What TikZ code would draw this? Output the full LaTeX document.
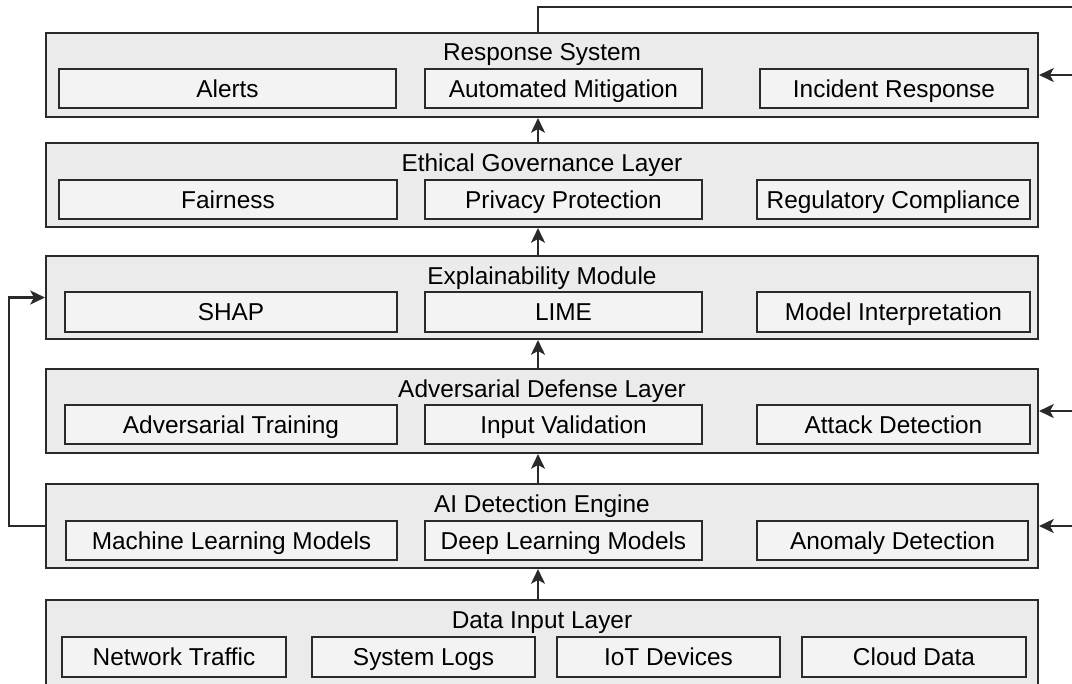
\documentclass[tikz,border=0pt]{standalone}
\usepackage{fontspec}
\setmainfont{Liberation Sans}
\usetikzlibrary{arrows.meta,fit}
\definecolor{edgegray}{HTML}{2A2A2A}
\definecolor{layerfill}{HTML}{EBEBEB}
\definecolor{cellfill}{HTML}{F3F3F3}
\begin{document}
\begin{tikzpicture}[x=0.75pt,y=-0.75pt,
  font=\fontsize{18.3}{21}\selectfont,
  layer/.style={draw=edgegray, line width=1.6pt, fill=layerfill, inner sep=0pt},
  cell/.style={draw=edgegray, line width=1.6pt, fill=cellfill, inner sep=0pt},
  % text box spans the capital letters only, so captions centre on their caps
  heading/.style={inner sep=0pt, text=black, text height=13.1pt, text depth=0pt},
  arr/.style={draw=edgegray, line width=1.6pt, -{Stealth[length=11pt, width=10.5pt, inset=2.8pt]}},
  wire/.style={draw=edgegray, line width=1.6pt}]
\useasboundingbox (0,0) rectangle (1072,683);
\clip (0,0) rectangle (1072,683);

% ---- layers (outer frames) ----
\node[layer, fit={(46,33)(1038,117)}]  (resp) {};
\node[layer, fit={(46,143)(1038,227)}] (eth)  {};
\node[layer, fit={(46,256)(1038,339)}] (expl) {};
\node[layer, fit={(46,369)(1038,453)}] (adv)  {};
\node[layer, fit={(46,484)(1038,568)}] (ai)   {};
\node[layer, fit={(46,600)(1038,700)}] (data) {};

% ---- layer titles ----
\node[heading] (resp-t) at (542,52)  {Response System};
\node[heading] (eth-t)  at (542,163) {Ethical Governance Layer};
\node[heading] (expl-t) at (542,276) {Explainability Module};
\node[heading] (adv-t)  at (542,389) {Adversarial Defense Layer};
\node[heading] (ai-t)   at (542,504) {AI Detection Engine};
\node[heading] (data-t) at (542,620) {Data Input Layer};

% ---- components (text centred inside each frame) ----
\tikzset{comp/.style={cell, label={[heading]center:#1}}}
\node[comp=Alerts,                fit={(59,69)(396,108)}]    (alerts) {};
\node[comp=Automated Mitigation,  fit={(425,69)(702,108)}]   (mitig)  {};
\node[comp=Incident Response,     fit={(760,69)(1028,108)}]  (incid)  {};

\node[comp=Fairness,              fit={(59,180)(397,219)}]   (fair)   {};
\node[comp=Privacy Protection,    fit={(425,180)(702,219)}]  (priv)   {};
\node[comp=Regulatory Compliance, fit={(757,180)(1030,219)}] (regul)  {};

\node[comp=SHAP,                  fit={(65,292)(397,332)}]   (shap)   {};
\node[comp=LIME,                  fit={(425,292)(702,332)}]  (lime)   {};
\node[comp=Model Interpretation,  fit={(757,292)(1030,332)}] (interp) {};

\node[comp=Adversarial Training,  fit={(65,405)(397,444)}]   (advtr)  {};
\node[comp=Input Validation,      fit={(425,405)(702,444)}]  (inval)  {};
\node[comp=Attack Detection,      fit={(757,405)(1030,444)}] (attack) {};

\node[comp=Machine Learning Models, fit={(66,521)(397,560)}]   (ml)   {};
\node[comp=Deep Learning Models,    fit={(425,521)(702,560)}]  (dl)   {};
\node[comp=Anomaly Detection,       fit={(757,521)(1028,560)}] (anom) {};

\node[comp=Network Traffic,       fit={(62,637)(286,677)}]   (net)    {};
\node[comp=System Logs,           fit={(312,637)(535,677)}]  (logs)   {};
\node[comp=IoT Devices,           fit={(557,637)(780,677)}]  (iot)    {};
\node[comp=Cloud Data,            fit={(802,637)(1026,677)}] (cloud)  {};

% ---- upward flow between layers ----
\coordinate (spine) at (538,0);
\draw[arr] (data.north -| spine) -- (ai.south -| spine);
\draw[arr] (ai.north -| spine)   -- (adv.south -| spine);
\draw[arr] (adv.north -| spine)  -- (expl.south -| spine);
\draw[arr] (expl.north -| spine) -- (eth.south -| spine);
\draw[arr] (eth.north -| spine)  -- (resp.south -| spine);

% ---- output leaving the response system ----
\coordinate (out) at (1080,7);
\draw[wire] (resp.north -| spine) |- (out);

% ---- inputs entering from the right ----
\coordinate (in-resp) at (1080,75);
\coordinate (in-adv)  at (1080,411);
\coordinate (in-ai)   at (1080,526);
\draw[arr] (in-resp) -- (resp.east);
\draw[arr] (in-adv)  -- (adv.east);
\draw[arr] (in-ai)   -- (ai.east);

% ---- feedback from detection to explainability ----
\draw[arr] (ai.west) -- ++(-36,0) |- (expl.west);
\end{tikzpicture}
\end{document}
